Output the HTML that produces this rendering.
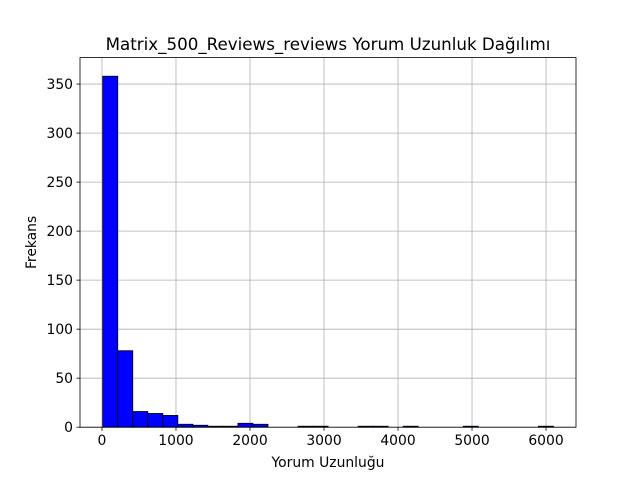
<!DOCTYPE html>
<html><head><meta charset="utf-8"><style>
body{margin:0;background:#fff;}
svg{display:block;font-family:"DejaVu Sans","Liberation Sans",sans-serif;}
</style></head><body>
<svg id="chart" width="640" height="480"></svg>
<script>
const binStart = 10;
const binWidth = 203;
const counts = [358,78,16,14,12,3,2,1,1,4,3,0,0,1,1,0,0,1,1,0,1,0,0,0,1,0,0,0,0,1];
const xTicks = [0,1000,2000,3000,4000,5000,6000];
const yTicks = [0,50,100,150,200,250,300,350];
const L=80,R=576,T=57.6,B=427.2;
const xMin=-297,xMax=6405,yMax=377;
const sx=v=>L+(v-xMin)/(xMax-xMin)*(R-L);
const sy=v=>B-v/yMax*(B-T);
const NS="http://www.w3.org/2000/svg";
const svg=document.getElementById('chart');
function mk(t,a,p){const e=document.createElementNS(NS,t);for(const k in a)e.setAttribute(k,a[k]);(p||svg).appendChild(e);return e;}
xTicks.forEach(v=>{
 const g=mk('line',{x1:sx(v),x2:sx(v),y1:T,y2:B,stroke:'#b0b0b0','stroke-width':0.8});
 
 
});
yTicks.forEach(v=>{
 const g=mk('line',{x1:L,x2:R,y1:sy(v),y2:sy(v),stroke:'#b0b0b0','stroke-width':0.8});
 
 
});
counts.forEach((c,i)=>{
 if(c<=0)return;
 const x0=sx(binStart+i*binWidth),x1=sx(binStart+(i+1)*binWidth);
 const r=mk('rect',{x:x0,y:sy(c),width:x1-x0,height:B-sy(c),fill:'#0000ff',stroke:'#000','stroke-width':0.8});
 
 
});
const fr=mk('rect',{x:L,y:T,width:R-L,height:B-T,fill:'none',stroke:'#000','stroke-width':0.8});


xTicks.forEach(v=>{
 mk('line',{x1:sx(v),x2:sx(v),y1:B,y2:B+3.5,stroke:'#000','stroke-width':0.8});
 const t=mk('text',{x:sx(v),y:B+18,'text-anchor':'middle','font-size':'13.9px'});
 t.textContent=v;
 
 
});
yTicks.forEach(v=>{
 mk('line',{x1:L-3.5,x2:L,y1:sy(v),y2:sy(v),stroke:'#000','stroke-width':0.8});
 const t=mk('text',{x:L-7,y:sy(v)+5,'text-anchor':'end','font-size':'13.9px'});
 t.textContent=v;
 
 
});
const xt=mk('text',{x:(L+R)/2,y:467,'text-anchor':'middle','font-size':'13.9px'});
xt.textContent='Yorum Uzunluğu';


const yt=mk('text',{x:36,y:(T+B)/2,'text-anchor':'middle','font-size':'13.9px',transform:`rotate(-90 36 ${(T+B)/2})`});
yt.textContent='Frekans';


const tt=mk('text',{x:(L+R)/2,y:50,'text-anchor':'middle','font-size':'16.7px'});
tt.textContent='Matrix_500_Reviews_reviews Yorum Uzunluk Dağılımı';


</script>
</body></html>
